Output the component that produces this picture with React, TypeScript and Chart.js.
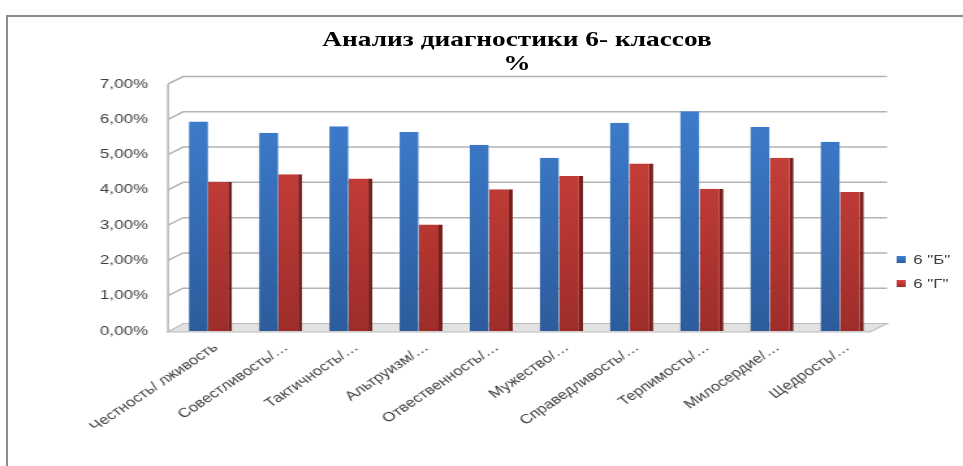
/** Bar chart "Анализ диагностики 6- классов" drawn with Chart.js. */
import { useEffect, useRef } from "react";
import { Chart, registerables } from "chart.js";
import type { Plugin, ScriptableContext } from "chart.js";

Chart.register(...registerables);

const categories = [
  "Честность/ лживость",
  "Совестливость/…",
  "Тактичность/…",
  "Альтруизм/…",
  "Отвественность/…",
  "Мужество/…",
  "Справедливость/…",
  "Терпимость/…",
  "Милосердие/…",
  "Щедрость/…",
];
const seriesNames = ['6 "Б"', '6 "Г"'];
const class6B = [5.94, 5.62, 5.8, 5.64, 5.28, 4.91, 5.9, 6.23, 5.78, 5.36];
const class6G = [4.22, 4.44, 4.32, 3.02, 4.02, 4.39, 4.75, 4.03, 4.91, 3.94];
const titleLines = ["Анализ диагностики 6- классов", "%"];
const yMax = 7;
const yStep = 1;

// the original picture is stretched sideways, so the canvas is drawn narrow and scaled
const CANVAS_W = 740;
const CANVAS_H = 466;
const STRETCH = 963 / CANVAS_W;

const seriesColors = [
  { top: "#3f80d2", bottom: "#2c5c9c", side: "#24508a" },
  { top: "#d6453f", bottom: "#9e2d2a", side: "#76201e" },
];

function gradientFor(index: number) {
  return (ctx: ScriptableContext<"bar">) => {
    const { chart } = ctx;
    const area = chart.chartArea;
    const colors = seriesColors[index];
    if (!area) {
      return colors.top;
    }
    const g = chart.ctx.createLinearGradient(0, area.top, 0, area.bottom);
    g.addColorStop(0, colors.top);
    g.addColorStop(1, colors.bottom);
    return g;
  };
}

/** Draws the grey back wall, side wall and floor of the 3D look. */
const wallPlugin: Plugin<"bar"> = {
  id: "wall3d",
  beforeDatasetsDraw(chart) {
    const { ctx, chartArea, scales } = chart;
    const y = scales.y;
    const frontLeft = chartArea.left - 3.8;
    const backLeft = chartArea.left + 7.8;
    const backRight = chartArea.right + 9.3;
    const frontRight = chartArea.right - 3.8;
    const dy = -7.5;
    const y0 = y.getPixelForValue(0);
    const yTop = y.getPixelForValue(yMax);

    ctx.save();
    // floor
    ctx.beginPath();
    ctx.moveTo(frontLeft, y0 + 1);
    ctx.lineTo(frontRight, y0 + 1);
    ctx.lineTo(backRight, y0 + dy);
    ctx.lineTo(backLeft, y0 + dy);
    ctx.closePath();
    ctx.fillStyle = "#e2e2e2";
    ctx.fill();
    ctx.strokeStyle = "#bcbcbc";
    ctx.lineWidth = 1.2;
    ctx.stroke();

    ctx.strokeStyle = "#b4b4b4";
    ctx.lineWidth = 1.5;
    for (let v = yStep; v <= yMax; v += yStep) {
      const yf = y.getPixelForValue(v);
      ctx.beginPath();
      ctx.moveTo(frontLeft, yf);
      ctx.lineTo(backLeft, yf + dy);
      ctx.lineTo(backRight, yf + dy);
      ctx.stroke();
    }
    ctx.beginPath();
    ctx.moveTo(frontLeft, yTop);
    ctx.lineTo(frontLeft, y0 + 1);
    ctx.stroke();
    ctx.restore();
  },
};

function ClassChart(): JSX.Element {
  const canvasRef = useRef<HTMLCanvasElement | null>(null);

  useEffect(() => {
    const canvas = canvasRef.current;
    if (!canvas) {
      return;
    }
    const chart = new Chart(canvas, {
      type: "bar",
      data: {
        labels: categories,
        datasets: [
          {
            label: seriesNames[0],
            data: class6B,
            backgroundColor: gradientFor(0),
            borderColor: "rgba(0,0,0,0)",
            borderWidth: { left: 3.8, right: 0, top: 0, bottom: 0 },
            borderSkipped: "bottom",
            barPercentage: 1,
            categoryPercentage: 0.683,
          },
          {
            label: seriesNames[1],
            data: class6G,
            backgroundColor: gradientFor(1),
            borderColor: seriesColors[1].side,
            borderWidth: { left: 0, right: 3.1, top: 0, bottom: 0 },
            borderSkipped: "bottom",
            barPercentage: 1,
            categoryPercentage: 0.683,
          },
        ],
      },
      options: {
        responsive: true,
        maintainAspectRatio: false,
        animation: false,
        layout: { padding: { left: 0, right: 67.7, top: 84, bottom: 0 } },
        plugins: {
          legend: { display: false },
          tooltip: { enabled: false },
          title: { display: false },
        },
        scales: {
          x: {
            grid: { display: false, drawTicks: false },
            border: { display: false },
            ticks: {
              color: "#404040",
              font: { family: "Liberation Sans", size: 13 },
              autoSkip: false,
              minRotation: 41,
              maxRotation: 41,
              padding: 9,
              labelOffset: 6,
            },
            afterFit: (scale) => {
              scale.height = 135;
            },
          },
          y: {
            min: 0,
            max: yMax,
            grid: { display: false, drawTicks: false },
            border: { display: false },
            ticks: {
              stepSize: yStep,
              color: "#404040",
              font: { family: "Liberation Sans", size: 13 },
              padding: 19.2,
              callback: (value: string | number) =>
                `${Number(value).toFixed(2).replace(".", ",")}%`,
            },
            afterFit: (scale) => {
              scale.width = 132.9;
            },
          },
        },
      },
      plugins: [wallPlugin],
    });

    return () => {
      chart.destroy();
    };
  }, []);

  return <canvas ref={canvasRef} />;
}

export default function App(): JSX.Element {
  const legendTops = [259, 283];
  return (
    <>
      <div
        style={{
          position: "fixed",
          left: 6,
          top: 15,
          width: 957,
          height: 451,
          borderLeft: "2px solid #8c8c8c",
          borderTop: "2px solid #8c8c8c",
          boxSizing: "border-box",
        }}
      />
      <div
        style={{
          position: "fixed",
          left: 0,
          top: 0,
          width: CANVAS_W,
          height: CANVAS_H,
          transform: `scaleX(${STRETCH})`,
          transformOrigin: "0 0",
        }}
      >
        <ClassChart />
        <div
          style={{
            position: "absolute",
            left: 397.3,
            top: 27,
            transform: "translateX(-50%)",
            fontFamily: "Liberation Serif",
            fontWeight: "bold",
            fontSize: 21,
            lineHeight: "24px",
            color: "#000000",
            textAlign: "center",
            whiteSpace: "nowrap",
          }}
        >
          {titleLines.map((line) => (
            <div key={line}>{line}</div>
          ))}
        </div>
        {seriesNames.map((name, i) => (
          <div
            key={name}
            style={{
              position: "absolute",
              left: 688.5,
              top: legendTops[i] - 8,
              height: 16,
              display: "flex",
              alignItems: "center",
              fontFamily: "Liberation Sans",
              fontSize: 13,
              color: "#404040",
              whiteSpace: "nowrap",
            }}
          >
            <span
              style={{
                display: "inline-block",
                width: 7.7,
                height: 7,
                marginRight: 5.5,
                background: `linear-gradient(${seriesColors[i].top}, ${seriesColors[i].bottom})`,
              }}
            />
            {name}
          </div>
        ))}
      </div>
    </>
  );
}
